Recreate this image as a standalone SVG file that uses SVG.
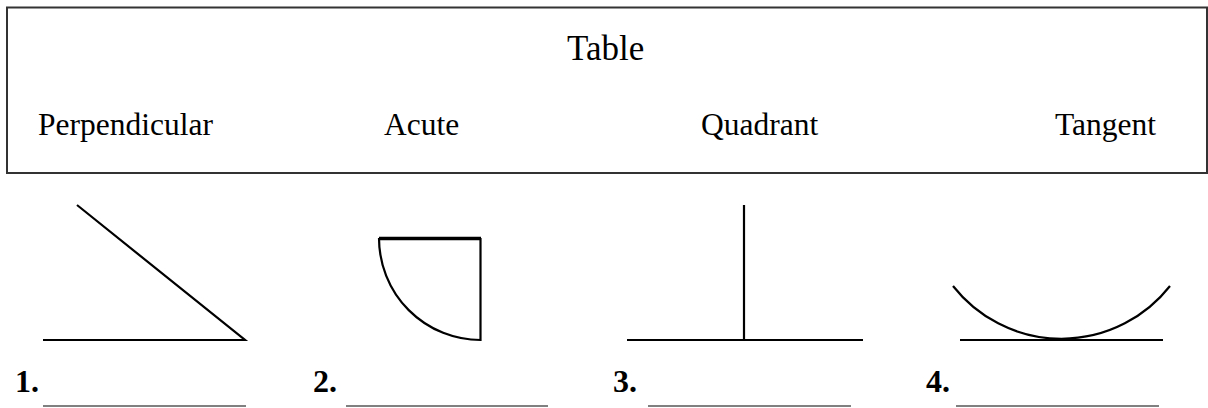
<svg xmlns="http://www.w3.org/2000/svg" width="1208" height="408" viewBox="0 0 1208 408">
<style>
.lbl{font-family:'Liberation Serif','DejaVu Serif',serif;font-size:31.5px;fill:#000}
.num{font-family:'Liberation Serif','DejaVu Serif',serif;font-size:32px;font-weight:bold;fill:#000}
.fig{fill:none;stroke:#000;stroke-width:2.2}
.blank{stroke:#808080;stroke-width:2}
</style>
<rect width="1208" height="408" fill="#fff"/>
<g id="table">
<rect x="7" y="7.5" width="1200" height="165.5" fill="none" stroke="#333" stroke-width="2"/>
<text x="567" y="60" class="lbl" style="font-size:35px">Table</text>
<text x="38" y="135" class="lbl">Perpendicular</text>
<text x="384" y="135" class="lbl">Acute</text>
<text x="701" y="135" class="lbl">Quadrant</text>
<text x="1055" y="135" class="lbl">Tangent</text>
</g>
<g id="fig1">
<path class="fig" d="M77,205 L245,340 H43"/>
<text x="15" y="392" class="num">1.</text>
<line class="blank" x1="43" y1="406" x2="246" y2="406"/>
</g>
<g id="fig2">
<line x1="379" y1="238.5" x2="481" y2="238.5" stroke="#000" stroke-width="3.5"/>
<path class="fig" d="M480.5,238 V340 A101.5,102 0 0 1 379,238"/>
<text x="313" y="392" class="num">2.</text>
<line class="blank" x1="346" y1="406" x2="548" y2="406"/>
</g>
<g id="fig3">
<path class="fig" d="M744,205 V340 M627,340 H863"/>
<text x="613" y="392" class="num">3.</text>
<line class="blank" x1="648" y1="406" x2="851" y2="406"/>
</g>
<g id="fig4">
<path class="fig" d="M960,340 H1163"/>
<path class="fig" d="M953,286 A138,138 0 0 0 1170,286"/>
<text x="926" y="392" class="num">4.</text>
<line class="blank" x1="956" y1="406" x2="1159" y2="406"/>
</g>
</svg>
